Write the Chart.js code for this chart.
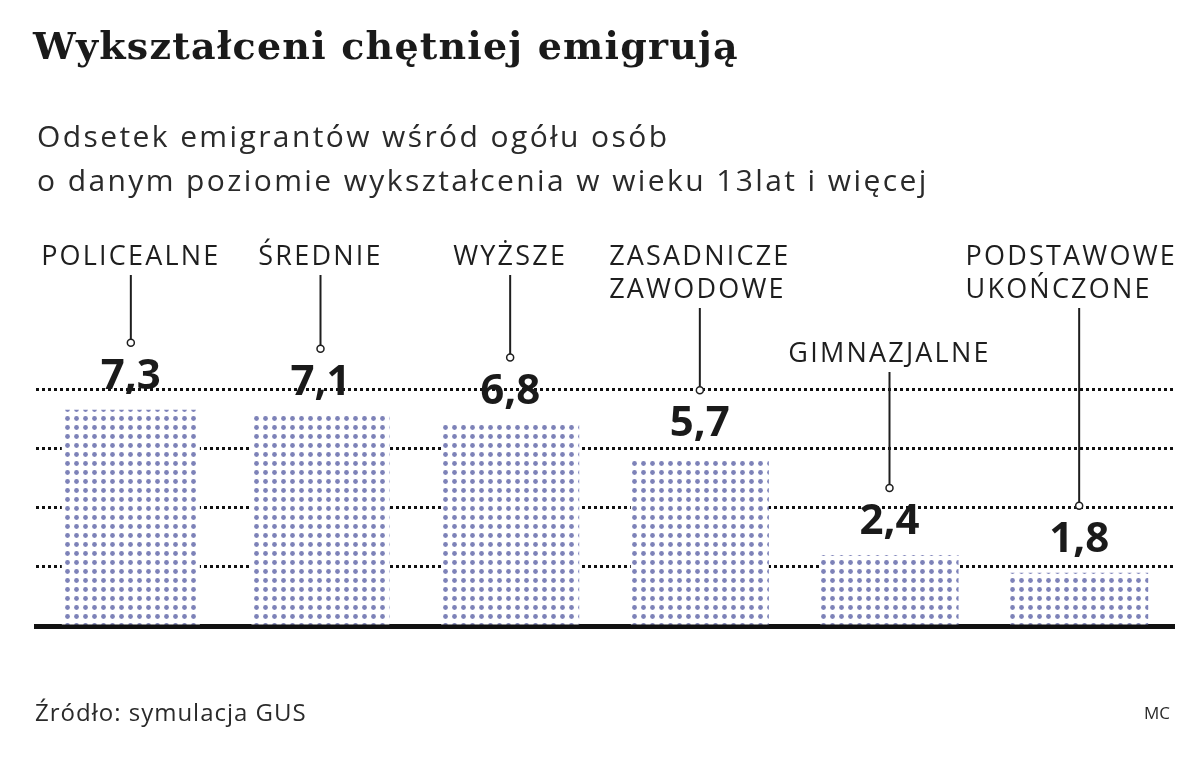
<!DOCTYPE html>
<html>
<head>
<meta charset="utf-8">
<script src="https://cdn.jsdelivr.net/npm/chart.js@4.4.0/dist/chart.umd.min.js"></script>
<style>
    body { margin: 0; background: #fff; width: 1200px; height: 758px; overflow: hidden; position: relative; font-family: 'Open Sans', sans-serif; color: #1e1e1e; }
    #title { position: absolute; left: 33px; top: 23px; font: bold 38px 'DejaVu Serif', serif; letter-spacing: 1.2px; color: #1a1a1a; white-space: nowrap; }
    #subtitle { position: absolute; left: 37px; top: 114px; font-size: 30px; line-height: 44px; letter-spacing: 2.4px; color: #2a2a2a; white-space: nowrap; }
    #source { position: absolute; left: 35px; top: 695px; font-size: 24px; letter-spacing: 1px; color: #2a2a2a; }
    #author { position: absolute; left: 1144px; top: 701px; font-size: 17px; color: #2a2a2a; }
    #chart { position: absolute; left: 0; top: 0; }
</style>
</head>
<body>
<canvas id="chart" width="1200" height="758"></canvas>
<div id="title">Wykształceni chętniej emigrują</div>
<div id="subtitle">Odsetek emigrantów wśród ogółu osób<br>o danym poziomie wykształcenia w wieku 13lat i więcej</div>
<div id="source">Źródło: symulacja GUS</div>
<div id="author">MC</div>
<script>
// chart data
const categories = ['POLICEALNE', 'ŚREDNIE', 'WYŻSZE', 'ZASADNICZE\nZAWODOWE', 'GIMNAZJALNE', 'PODSTAWOWE\nUKOŃCZONE'];
const values = [7.3, 7.1, 6.8, 5.7, 2.4, 1.8];
const valueLabels = ['7,3', '7,1', '6,8', '5,7', '2,4', '1,8'];
const gridTicks = [0, 2, 4, 6, 8];

// dotted fill for the bars
function makeDotPattern() {
    const c = document.createElement('canvas');
    c.width = 9;
    c.height = 9;
    const g = c.getContext('2d');
    g.fillStyle = '#ffffff';
    g.fillRect(0, 0, 9, 9);
    g.fillStyle = '#7d82b8';
    g.beginPath();
    g.arc(4.5, 4.5, 2.4, 0, Math.PI * 2);
    g.fill();
    return g.createPattern(c, 'repeat');
}

// category labels with leader lines and value labels
const labelPlugin = {
    id: 'labelPlugin',
    afterDatasetsDraw(chart) {
        const ctx = chart.ctx;
        const xScale = chart.scales.x;
        const yScale = chart.scales.y;
        const lineH = 33;
        ctx.save();
        ctx.font = '27px "Open Sans"';
        ctx.letterSpacing = '2.2px';
        const boxes = categories.map((cat, i) => {
            const lines = cat.split('\n');
            const w = Math.max(...lines.map(l => ctx.measureText(l).width));
            const x = xScale.getPixelForValue(i);
            let left = Math.min(Math.max(x - w / 2, 37), 1177 - w);
            return { lines, w, left, x, dropped: false };
        });
        // drop a label to a lower row when it collides with its right neighbour
        let nextLeft = Infinity;
        for (let i = boxes.length - 1; i >= 0; i--) {
            const b = boxes[i];
            if (b.left + b.w + 10 > nextLeft) {
                b.dropped = true;
            } else {
                nextLeft = b.left;
            }
        }
        boxes.forEach((b, i) => {
            const top = yScale.getPixelForValue(values[i]);
            const circleY = top - 67;
            let firstY = 257;
            if (b.dropped) {
                firstY = yScale.getPixelForValue(8) - 35 - (b.lines.length - 1) * lineH;
            }
            ctx.fillStyle = '#1e1e1e';
            ctx.textAlign = 'left';
            ctx.textBaseline = 'middle';
            ctx.font = '27px "Open Sans"';
            ctx.letterSpacing = '2.2px';
            b.lines.forEach((l, k) => {
                ctx.fillText(l, b.left, firstY + k * lineH);
            });
            const lineTop = firstY + (b.lines.length - 1) * lineH + 18;
            ctx.strokeStyle = '#1e1e1e';
            ctx.lineWidth = 2;
            ctx.beginPath();
            ctx.moveTo(b.x, lineTop);
            ctx.lineTo(b.x, circleY - 3.5);
            ctx.stroke();
            ctx.beginPath();
            ctx.arc(b.x, circleY, 3.5, 0, Math.PI * 2);
            ctx.fillStyle = '#fff';
            ctx.fill();
            ctx.lineWidth = 1.5;
            ctx.stroke();
            ctx.fillStyle = '#1a1a1a';
            ctx.textAlign = 'center';
            ctx.letterSpacing = '0px';
            ctx.font = 'bold 42px "Open Sans"';
            ctx.fillText(valueLabels[i], b.x, top - 33);
        });
        ctx.restore();
    }
};

document.addEventListener('DOMContentLoaded', () => {
    const ctx = document.getElementById('chart').getContext('2d');
    new Chart(ctx, {
        type: 'bar',
        data: {
            labels: categories,
            datasets: [{
                data: values,
                backgroundColor: makeDotPattern(),
                borderWidth: 0,
                categoryPercentage: 1,
                barPercentage: 0.728,
            }],
        },
        options: {
            responsive: false,
            animation: false,
            layout: { padding: { left: 36, right: 26, top: 389, bottom: 132 } },
            plugins: { legend: { display: false }, tooltip: { enabled: false } },
            scales: {
                x: {
                    ticks: { display: false },
                    grid: { display: false, drawTicks: false },
                    border: { display: true, color: '#111', width: 5 },
                },
                y: {
                    min: 0,
                    max: 8,
                    afterBuildTicks: axis => { axis.ticks = gridTicks.map(v => ({ value: v })); },
                    ticks: { display: false },
                    grid: {
                        drawTicks: false,
                        lineWidth: 3,
                        color: c => (c.tick && c.tick.value === 0 ? 'rgba(0,0,0,0)' : '#111'),
                    },
                    border: { display: false, dash: [3, 3] },
                },
            },
        },
        plugins: [labelPlugin],
    });
});
</script>
</body>
</html>
